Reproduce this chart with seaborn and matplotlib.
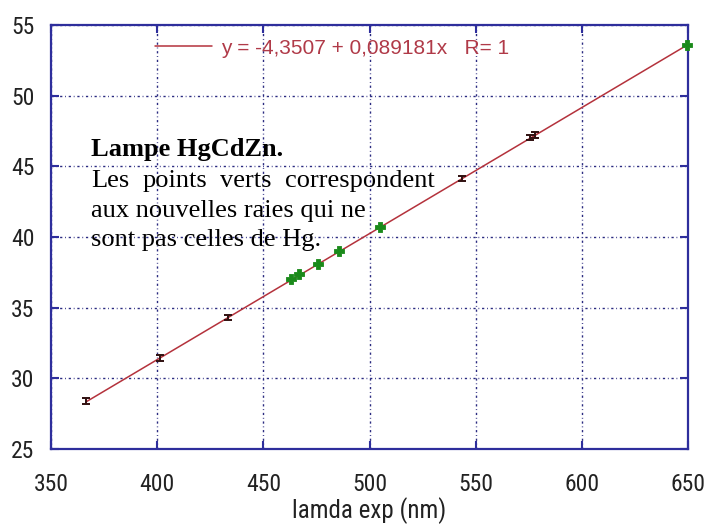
import numpy as np
import pandas as pd
import seaborn as sns
import matplotlib
matplotlib.use("Agg")
import matplotlib.pyplot as plt
from matplotlib import font_manager

# Hg reference lines (measured with error bars)
hg_lambda = [366.5, 401.4, 433.3, 543.4, 575.8, 577.8]
hg_value = [28.40, 31.45, 34.30, 44.15, 47.05, 47.20]
hg_err = [0.2, 0.2, 0.2, 0.2, 0.2, 0.2]

# New lines from the Cd / Zn lamp
new_lambda = [463.1, 467.0, 475.8, 485.5, 504.9, 649.5]
new_value = [37.0, 37.4, 38.1, 39.0, 40.7, 53.6]

# Linear fit y = a + b x
fit_a = -4.3507
fit_b = 0.089181
fit_label = "y = -4,3507 + 0,089181x   R= 1"

x_ticks = [350, 400, 450, 500, 550, 600, 650]
y_ticks = [25, 30, 35, 40, 45, 50, 55]
x_label = "lamda exp (nm)"

title_line = "Lampe HgCdZn."
body_lines = ["Les points verts correspondent",
              "aux nouvelles raies qui ne",
              "sont pas celles de Hg."]

sns.set_style("white")
plt.rcParams["font.family"] = ["Roboto Condensed", "Liberation Sans Narrow",
                               "DejaVu Sans"]
plt.rcParams["font.stretch"] = "condensed"

W, H = 707, 525
fig = plt.figure(figsize=(W / 100, H / 100), dpi=100)
fig.patch.set_facecolor("white")
ax = fig.add_axes([51 / W, 1 - 449 / H, (688 - 51) / W, (449 - 25) / H])
ax.set_facecolor("white")

navy = "#2e2e9c"
grid_col = "#2a2a80"
red = "#b4323c"
green = "#1a8a1a"

# fitted line over the measured range
all_lambda = np.array(hg_lambda + new_lambda)
fit_x = np.array([all_lambda.min(), 650.0])
fit_df = pd.DataFrame({"x": fit_x, "y": fit_a + fit_b * fit_x})
sns.lineplot(data=fit_df, x="x", y="y", ax=ax, color=red, linewidth=1.1,
             label=fit_label, zorder=3)

# Hg points with error bars
ax.errorbar(hg_lambda, hg_value, yerr=hg_err, fmt="none", ecolor="#301010",
            elinewidth=1.4, capsize=3.0, capthick=1.4, zorder=4)

# new lines
new_df = pd.DataFrame({"x": new_lambda, "y": new_value})
sns.scatterplot(data=new_df, x="x", y="y", ax=ax, color=green, marker="P",
                s=50, edgecolor=green, linewidth=0.6, zorder=5, legend=False,
                clip_on=False)

ax.set_xlim(350, 650)
ax.set_ylim(25, 55)
ax.set_xticks(x_ticks)
ax.set_yticks(y_ticks)
ax.set_xlabel(x_label, fontsize=18, color="#222222", labelpad=1)
ax.set_ylabel("")

ax.grid(True, color=grid_col, linewidth=1.0, linestyle=(0, (1.6, 2.0, 0.6, 2.0)))
for s in ax.spines.values():
    s.set_color(navy)
    s.set_linewidth(1.6)
    s.set_visible(True)
ax.tick_params(axis="both", which="major", direction="in", length=6, width=1.5,
               color=navy, labelsize=17, labelcolor="#222222",
               top=True, right=True, left=True, bottom=True)
ax.tick_params(axis="x", pad=17)
ax.tick_params(axis="y", pad=12)

leg = ax.legend(loc="center left", bbox_to_anchor=(155 / W, 1 - 48 / H),
                bbox_transform=fig.transFigure, frameon=False, borderpad=0,
                borderaxespad=0, handlelength=2.75, handletextpad=0.4,
                prop={"family": ["Liberation Sans", "DejaVu Sans"], "size": 15,
                      "stretch": "normal"})
for t in leg.get_texts():
    t.set_color("#b03a48")

# annotation block (serif, justified first body line)
serif = ["Liberation Serif", "DejaVu Serif"]
x0 = 91
fig.text(x0 / W, 1 - 156 / H, title_line, family=serif, fontsize=19,
         fontweight="bold", color="black", va="baseline", ha="left",
         fontstretch="normal")

renderer = fig.canvas.get_renderer()
words = body_lines[0].split()
right_edge = 435
widths = []
for w in words:
    t = fig.text(0, 0, w, family=serif, fontsize=19, fontstretch="normal")
    widths.append(t.get_window_extent(renderer).width)
    t.remove()
gap = (right_edge - x0 - sum(widths)) / (len(words) - 1)
xp = x0
for w, wd in zip(words, widths):
    fig.text(xp / W, 1 - 187 / H, w, family=serif, fontsize=19, color="black",
             va="baseline", ha="left", fontstretch="normal")
    xp += wd + gap

for line, base in zip(body_lines[1:], [217, 246]):
    fig.text(x0 / W, 1 - base / H, line, family=serif, fontsize=19,
             color="black", va="baseline", ha="left", fontstretch="normal")

fig.savefig("out.png", dpi=100, facecolor="white")
